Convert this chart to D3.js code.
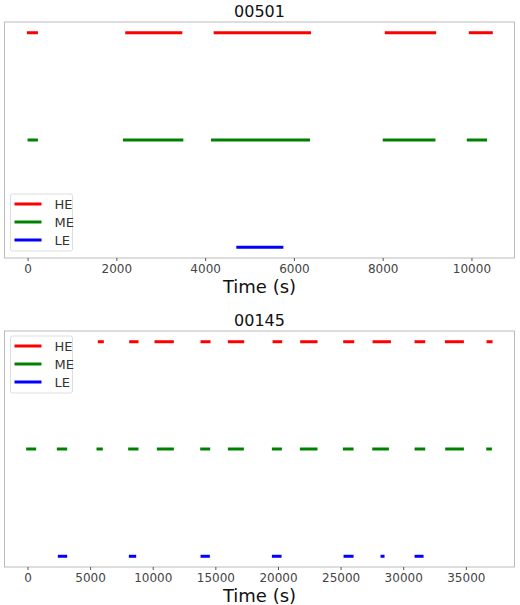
<!DOCTYPE html>
<html><head><meta charset="utf-8">
<script src="https://cdn.jsdelivr.net/npm/d3@7"></script>
<style>body{margin:0;background:#fff;font-family:"DejaVu Sans",sans-serif}</style>
</head><body><svg id="c" width="520" height="605"></svg>
<script>
const bands = ["HE", "ME", "LE"];
const colors = {HE: "#ff0000", ME: "#008000", LE: "#0000ff"};

// observation intervals [start, end] in seconds
const top_HE = [[-15,233],[2200,3486],[4192,6386],[8047,9204],[9940,10481]];
const top_ME = [[0,233],[2149,3509],[4132,6364],[8001,9189],[9895,10353]];
const top_LE = [[4703,5763]];
const topTicks = [0,2000,4000,6000,8000,10000];

const bot_HE = [[5617,6096],[8119,8864],[10142,11686],[13816,14614],[15999,17303],[19566,20338],
  [21775,23159],[25209,26088],[27552,29016],[30906,31758],[33328,34845],[36656,37135]];
const bot_ME = [[-106,692],[2343,3168],[5510,6016],[8039,8864],[10329,11686],[13790,14588],[15999,17276],
  [19513,20311],[21749,23159],[25183,26035],[27525,28856],[30906,31758],[33354,34845],[36629,37082]];
const bot_LE = [[2422,3168],[8092,8678],[13816,14561],[19513,20285],[25236,26035],[28190,28510],[30906,31625]];
const botTicks = [0,5000,10000,15000,20000,25000,30000,35000];

const svg = d3.select("#c");

function panel(oy, title, series, xdom, ticks, legendTop) {
  const L = 4.5, R = 514.5, T = oy + 22, B = oy + 258;
  const x = d3.scaleLinear().domain(xdom).range([L, R]);
  const y = d3.scaleLinear().domain([-0.1, 2.1]).range([B, T]);
  const g = svg.append("g");
  g.append("text").attr("x", (L + R) / 2).attr("y", oy + 17).attr("text-anchor", "middle")
    .attr("font-size", 16).attr("fill", "#111").text(title);
  g.append("rect").attr("x", L).attr("y", T).attr("width", R - L).attr("height", B - T)
    .attr("fill", "none").attr("stroke", "#bbb").attr("stroke-width", 1);
  bands.forEach((b, i) => {
    g.selectAll(null).data(series[b]).join("line")
      .attr("x1", d => x(d[0])).attr("x2", d => x(d[1]))
      .attr("y1", y(2 - i)).attr("y2", y(2 - i))
      .attr("stroke", colors[b]).attr("stroke-width", 3);
  });
  const ax = g.append("g").attr("transform", `translate(0,${B})`)
    .call(d3.axisBottom(x).tickValues(ticks).tickSize(3).tickPadding(3).tickFormat(d3.format("d")));
  ax.select(".domain").remove();
  ax.selectAll("line").attr("stroke", "#555");
  ax.selectAll("text").attr("font-size", 12).attr("fill", "#444").attr("font-family", "DejaVu Sans");
  g.append("text").attr("x", (L + R) / 2).attr("y", B + 35).attr("text-anchor", "middle")
    .attr("font-size", 18).attr("fill", "#111").text("Time (s)");
  // legend
  const ly = legendTop ? T + 5 : B - 64;
  const lg = g.append("g").attr("transform", `translate(${L + 6},${ly})`);
  lg.append("rect").attr("width", 62).attr("height", 57).attr("rx", 2)
    .attr("fill", "#fff").attr("stroke", "#ddd");
  bands.forEach((b, i) => {
    const yy = 10 + i * 18;
    lg.append("line").attr("x1", 4).attr("x2", 31).attr("y1", yy).attr("y2", yy)
      .attr("stroke", colors[b]).attr("stroke-width", 3);
    lg.append("text").attr("x", 44).attr("y", yy + 5).attr("font-size", 13)
      .attr("fill", "#333").text(b);
  });
}

panel(0, "00501", {HE: top_HE, ME: top_ME, LE: top_LE}, [-520, 10970], topTicks, false);
panel(309, "00145", {HE: bot_HE, ME: bot_ME, LE: bot_LE}, [-1836, 38886], botTicks, true);
</script></body></html>
